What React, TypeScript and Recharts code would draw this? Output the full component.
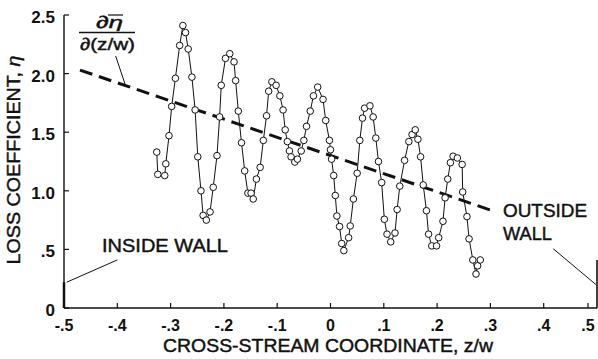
import React from 'react';
import { ComposedChart, Line, XAxis, YAxis, ReferenceLine } from 'recharts';

// cross-stream coordinate z/w and loss coefficient
const zw = [
  -0.326, -0.324, -0.311, -0.309, -0.303, -0.298, -0.291, -0.283, -0.277, -0.272,
  -0.267, -0.26, -0.254, -0.249, -0.243, -0.239, -0.233, -0.226, -0.22, -0.213,
  -0.208, -0.205, -0.197, -0.189, -0.181, -0.178, -0.173, -0.167, -0.161, -0.155,
  -0.149, -0.145, -0.139, -0.132, -0.126, -0.12, -0.116, -0.11, -0.102, -0.095,
  -0.089, -0.085, -0.081, -0.077, -0.074, -0.067, -0.062, -0.055, -0.05, -0.045,
  -0.038, -0.032, -0.024, -0.014, -0.009, -0.002, 0.0, 0.002, 0.006, 0.009,
  0.012, 0.017, 0.021, 0.025, 0.034, 0.037, 0.043, 0.05, 0.055, 0.06,
  0.064, 0.074, 0.08, 0.085, 0.09, 0.096, 0.101, 0.106, 0.113, 0.121,
  0.125, 0.13, 0.139, 0.147, 0.153, 0.159, 0.164, 0.169, 0.174, 0.18,
  0.184, 0.19, 0.199, 0.203, 0.211, 0.215, 0.22, 0.225, 0.23, 0.238,
  0.247, 0.248, 0.256, 0.26, 0.267, 0.273, 0.276, 0.281,
];
const eta = [
  1.33, 1.14, 1.13, 1.23, 1.47, 1.72, 1.96, 2.24, 2.41, 2.35,
  2.21, 1.97, 1.69, 1.29, 1.0, 0.79, 0.75, 0.82, 1.03, 1.3,
  1.63, 1.9, 2.13, 2.17, 2.1, 1.94, 1.68, 1.41, 1.17, 0.98,
  0.98, 0.93, 1.1, 1.2, 1.43, 1.64, 1.85, 1.93, 1.9, 1.81,
  1.69, 1.52, 1.42, 1.34, 1.29, 1.245, 1.27, 1.34, 1.43, 1.55,
  1.68, 1.81, 1.885, 1.78, 1.6, 1.43, 1.35, 1.27, 1.13, 0.96,
  0.785, 0.695, 0.55, 0.49, 0.6, 0.7, 0.93, 1.15, 1.43, 1.62,
  1.705, 1.725, 1.63, 1.45, 1.25, 1.07, 0.757, 0.63, 0.564, 0.64,
  0.84, 1.04, 1.26, 1.42, 1.48, 1.52, 1.44, 1.29, 1.05, 0.83,
  0.63, 0.53, 0.53, 0.6, 0.74, 0.94, 1.1, 1.24, 1.295, 1.28,
  1.225, 0.99, 0.78, 0.59, 0.41, 0.29, 0.36, 0.41,
];

// mean gradient line
const trendZw = [-0.47, 0.304];
const trendEta = [2.03, 0.83];

const xTicks = [-0.5, -0.4, -0.3, -0.2, -0.1, 0, 0.1, 0.2, 0.3, 0.4, 0.5];
const xTickLabels = ['-.5', '-.4', '-.3', '-.2', '-.1', '0', '.1', '.2', '.3', '.4', '.5'];
const yTicks = [0, 0.5, 1, 1.5, 2, 2.5];
const yTickLabels = ['0', '.5', '1.0', '1.5', '2.0', '2.5'];

// leader lines and wall marks (data coordinates)
const fractionLeader = [[-0.403, 2.15], [-0.384, 1.89]];
const insideLeader = [[-0.495, 0.22], [-0.4, 0.41]];
const outsideLeader = [[0.418, 0.505], [0.498, 0.2]];
const insideWall = [[-0.5, 0], [-0.5, 0.22]];
const outsideWall = [[0.5, 0], [0.5, 0.41]];

const points = zw.map((z, i) => ({ x: z, y: eta[i] }));
const trend = trendZw.map((z, i) => ({ x: z, y: trendEta[i] }));
const seg = (s: number[][]) => s.map(([x, y]) => ({ x, y }));

const font = '"Liberation Sans", Arial, sans-serif';
const ink = '#111';

const XTick = (props: any) => {
  const { x, y, payload } = props;
  const label = xTickLabels[xTicks.indexOf(payload.value)];
  return (
    <g>
      <line x1={x} y1={y} x2={x} y2={y - 5} stroke={ink} strokeWidth={1.2} />
      <text x={x} y={y + 23} textAnchor="middle" fontSize={16} fontWeight="bold" fontFamily={font} fill={ink}>
        {label}
      </text>
    </g>
  );
};

const YTick = (props: any) => {
  const { x, y, payload } = props;
  const label = yTickLabels[yTicks.indexOf(payload.value)];
  return (
    <g>
      <line x1={x} y1={y} x2={x + 5} y2={y} stroke={ink} strokeWidth={1.2} />
      <text x={x - 9} y={y + 8} textAnchor="end" fontSize={17} fontWeight="bold" fontFamily={font} fill={ink}>
        {label}
      </text>
    </g>
  );
};

const txt = { fontFamily: font, fill: ink, stroke: ink, strokeWidth: 0.45 };

export default function App() {
  return (
    <div style={{ position: 'absolute', left: 0, top: 0, width: 598, height: 359, background: '#fff' }}>
      <ComposedChart width={598} height={359} margin={{ top: 15, right: 1, bottom: 0, left: 0 }}>
        <XAxis
          type="number"
          dataKey="x"
          domain={[-0.5, 0.5]}
          ticks={xTicks}
          height={51}
          tickLine={false}
          tickSize={0}
          tickMargin={0}
          tick={<XTick />}
          axisLine={{ stroke: ink, strokeWidth: 1.4 }}
          allowDataOverflow
        />
        <YAxis
          type="number"
          dataKey="y"
          domain={[0, 2.5]}
          ticks={yTicks}
          width={64}
          tickLine={false}
          tickSize={0}
          tickMargin={0}
          tick={<YTick />}
          axisLine={{ stroke: ink, strokeWidth: 1.4 }}
          allowDataOverflow
        />
        <ReferenceLine segment={seg(insideWall)} stroke={ink} strokeWidth={2.5} ifOverflow="visible" />
        <ReferenceLine segment={seg(outsideWall)} stroke={ink} strokeWidth={1.6} ifOverflow="visible" />
        <ReferenceLine segment={seg(fractionLeader)} stroke={ink} strokeWidth={1} ifOverflow="visible" />
        <ReferenceLine segment={seg(insideLeader)} stroke={ink} strokeWidth={1} ifOverflow="visible" />
        <ReferenceLine segment={seg(outsideLeader)} stroke={ink} strokeWidth={1} ifOverflow="visible" />
        <Line
          data={points}
          dataKey="y"
          type="linear"
          stroke={ink}
          strokeWidth={1}
          dot={{ r: 3.3, fill: '#fff', stroke: ink, strokeWidth: 1 }}
          isAnimationActive={false}
        />
        <Line
          data={trend}
          dataKey="y"
          type="linear"
          stroke={ink}
          strokeWidth={3}
          strokeDasharray="13 7"
          dot={false}
          isAnimationActive={false}
        />
      </ComposedChart>
      <svg width={598} height={359} style={{ position: 'absolute', left: 0, top: 0, pointerEvents: 'none' }}>
        {/* gradient label */}
        <text x={96} y={28} fontSize={17} {...txt} textLength={27} lengthAdjust="spacingAndGlyphs">
          ∂<tspan fontStyle="italic">η</tspan>
        </text>
        <line x1={108} y1={15} x2={123} y2={15} stroke={ink} strokeWidth={1.2} />
        <line x1={79} y1={32.5} x2={135} y2={32.5} stroke={ink} strokeWidth={1.3} />
        <text x={80} y={50} fontSize={17} {...txt} textLength={55} lengthAdjust="spacingAndGlyphs">
          ∂(z/w)
        </text>
        {/* annotations */}
        <text x={102} y={252} fontSize={19} {...txt} textLength={126} lengthAdjust="spacingAndGlyphs">
          INSIDE WALL
        </text>
        <text x={503} y={217} fontSize={19} {...txt} textLength={84} lengthAdjust="spacingAndGlyphs">
          OUTSIDE
        </text>
        <text x={503} y={240} fontSize={19} {...txt} textLength={49} lengthAdjust="spacingAndGlyphs">
          WALL
        </text>
        {/* axis titles */}
        <text x={328} y={352} fontSize={19} textAnchor="middle" {...txt} textLength={330} lengthAdjust="spacingAndGlyphs">
          CROSS-STREAM COORDINATE, z/w
        </text>
        <text
          transform="translate(20,160) rotate(-90)"
          x={0}
          y={0}
          fontSize={18}
          textAnchor="middle"
          {...txt}
          textLength={209}
          lengthAdjust="spacingAndGlyphs"
        >
          LOSS COEFFICIENT, <tspan fontStyle="italic">η</tspan>
        </text>
      </svg>
    </div>
  );
}
